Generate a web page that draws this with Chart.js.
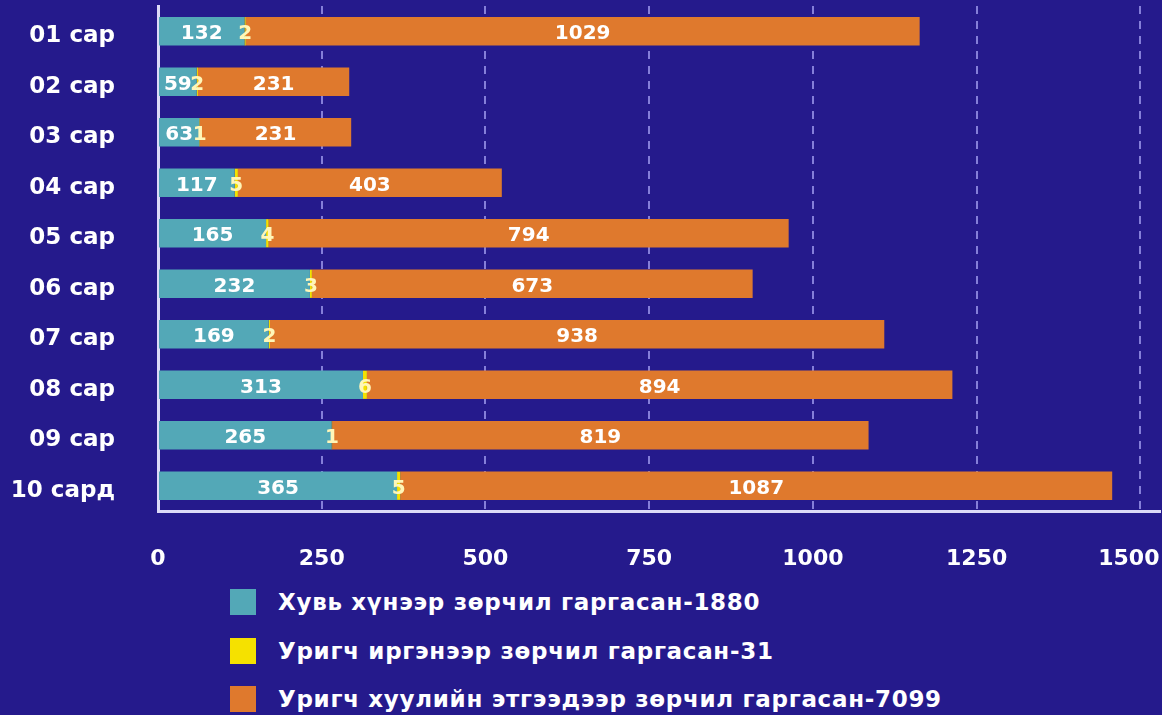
<!DOCTYPE html>
<html>
<head>
<meta charset="utf-8">
<script src="https://cdn.jsdelivr.net/npm/chart.js@4"></script>
<style>
  html, body { margin: 0; padding: 0; background: #251a8c; }
  #wrap { position: relative; width: 1162px; height: 570px; }
  #legend { position: absolute; left: 230px; top: 578px; font-family: "DejaVu Sans", sans-serif; font-weight: bold; font-size: 23px; letter-spacing: 0.7px; color: #fff; }
  #legend div { display: flex; align-items: center; height: 48.5px; }
  #legend span.box { display: inline-block; width: 26px; height: 26px; margin-right: 22px; }
</style>
</head>
<body>
<div id="wrap"><canvas id="chart"></canvas></div>
<div id="legend"></div>
<script>
const months = ["01 сар", "02 сар", "03 сар", "04 сар", "05 сар", "06 сар", "07 сар", "08 сар", "09 сар", "10 сард"];
const individuals = [132, 59, 63, 117, 165, 232, 169, 313, 265, 365];
const citizens = [2, 2, 1, 5, 4, 3, 2, 6, 1, 5];
const entities = [1029, 231, 231, 403, 794, 673, 938, 894, 819, 1087];
const seriesNames = [
  "Хувь хүнээр зөрчил гаргасан-1880",
  "Уригч иргэнээр зөрчил гаргасан-31",
  "Уригч хуулийн этгээдээр зөрчил гаргасан-7099",
];
const colors = ["#53a8b7", "#f5e100", "#df792d"];
const labelColors = ["#ffffff", "#fff6b8", "#ffffff"];
const xTicks = [0, 250, 500, 750, 1000, 1250, 1500];

const font = "'DejaVu Sans', sans-serif";

// value labels in the middle of each segment
const segmentLabels = {
  id: "segmentLabels",
  afterDatasetsDraw(chart) {
    const ctx = chart.ctx;
    ctx.save();
    ctx.font = "bold 20px " + font;
    ctx.textAlign = "center";
    ctx.textBaseline = "middle";
    chart.data.datasets.forEach((ds, i) => {
      ctx.fillStyle = labelColors[i];
      chart.getDatasetMeta(i).data.forEach((bar, j) => {
        const x = (bar.x + bar.base) / 2;
        ctx.fillText(String(ds.data[j]), x, bar.y + 3);
      });
    });
    ctx.restore();
  },
};

new Chart(document.getElementById("chart"), {
  type: "bar",
  data: {
    labels: months,
    datasets: [
      { label: seriesNames[0], data: individuals, backgroundColor: colors[0] },
      { label: seriesNames[1], data: citizens, backgroundColor: colors[1] },
      { label: seriesNames[2], data: entities, backgroundColor: colors[2] },
    ],
  },
  options: {
    indexAxis: "y",
    responsive: true,
    maintainAspectRatio: false,
    animation: false,
    categoryPercentage: 1,
    barPercentage: 0.56,
    layout: { padding: { top: 6, right: 2, bottom: 0, left: 0 } },
    plugins: {
      legend: { display: false },
      tooltip: { enabled: false },
    },
    scales: {
      x: {
        stacked: true,
        min: 0,
        max: 1530,
        afterBuildTicks(scale) {
          scale.ticks = xTicks.map((v) => ({ value: v }));
        },
        afterFit(scale) {
          scale.height = 59;
          scale.paddingLeft = 0;
          scale.paddingRight = 0;
        },
        grid: {
          color: "rgba(150,146,230,0.85)",
          lineWidth: 2,
          drawTicks: false,
        },
        border: { color: "#dcdaf7", width: 3, dash: [8, 7] },
        ticks: {
          color: "#ffffff",
          padding: 35,
          // the last label sits a little left of its line, as in the source
          callback: (v) => (v === 1500 ? "1500\u00a0\u00a0\u00a0" : String(v)),
          font: { family: font, size: 22, weight: "bold" },
        },
      },
      y: {
        stacked: true,
        afterFit(scale) {
          scale.width = 158;
          scale.paddingTop = 0;
          scale.paddingBottom = 0;
        },
        grid: { display: false, drawTicks: false },
        border: { color: "#dcdaf7", width: 3 },
        ticks: {
          color: "#ffffff",
          padding: 43,
          labelOffset: 5,
          font: { family: font, size: 23, weight: "bold" },
        },
      },
    },
  },
  plugins: [segmentLabels],
});

// legend as a vertical list under the chart
const legend = document.getElementById("legend");
seriesNames.forEach((name, i) => {
  const row = document.createElement("div");
  const box = document.createElement("span");
  box.className = "box";
  box.style.background = colors[i];
  row.appendChild(box);
  row.appendChild(document.createTextNode(name));
  legend.appendChild(row);
});
</script>
</body>
</html>
